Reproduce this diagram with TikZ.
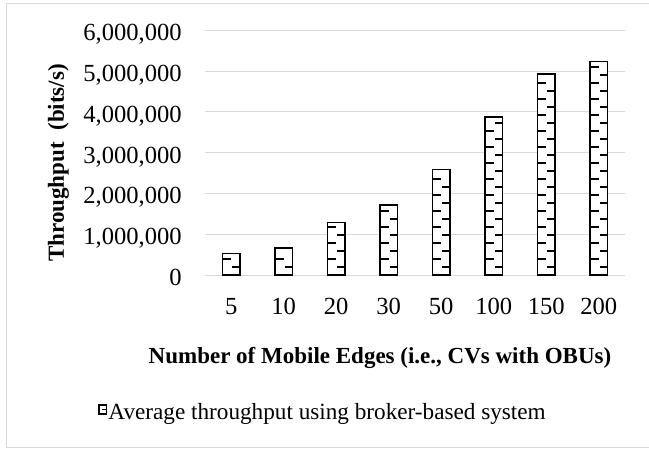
\documentclass[tikz,border=0pt]{standalone}
\usepackage{fontspec}
\setmainfont{Liberation Serif}
\definecolor{gridgray}{HTML}{D9D9D9}

\begin{document}
\begin{tikzpicture}[x=1pt,y=1pt,
    tick/.style={font=\fontsize{24.6}{24.6}\selectfont, inner sep=0pt},
    axtitle/.style={font=\fontsize{23}{23}\selectfont\bfseries, inner sep=0pt},
    bar/.style={draw=black, line width=1.5pt, fill=white},
    hatch/.style={line width=1.3pt}]

    \useasboundingbox (-205,-173) rectangle (444,275);
    \draw[gridgray, line width=1pt] (-198,-172) rectangle (470,272);

    \foreach \k in {0,...,6}
        \draw[gridgray, line width=1pt] (0,40.8*\k) -- (420,40.8*\k);

    \foreach \k/\lab in {0/0, 1/{1,000,000}, 2/{2,000,000}, 3/{3,000,000},
                         4/{4,000,000}, 5/{5,000,000}, 6/{6,000,000}}
        \node[tick, anchor=base east] (yl\k) at (-23,40.8*\k-10.5) {\lab};

    \foreach \i/\lab/\v in {1/5/0.53, 2/10/0.66, 3/20/1.29, 4/30/1.72,
                            5/50/2.59, 6/100/3.87, 7/150/4.93, 8/200/5.23} {
        \pgfmathsetmacro\xc{52.5*\i-26.25}
        \pgfmathsetmacro\h{40.8*\v}
        \pgfmathtruncatemacro\n{floor((\h-3)/8)}
        \draw[bar] (\xc-8.7,0) rectangle (\xc+8.7,\h);
        \foreach \m in {1,...,\n} {
            \ifodd\m
                \draw[hatch] (\xc+1,8*\m) -- (\xc+8.7,8*\m);
            \else
                \draw[hatch] (\xc-8.7,8*\m) -- (\xc,8*\m);
            \fi
        }
        \node[tick, anchor=base] (xl\i) at (\xc,-39) {\lab};
    }

    \node[axtitle, anchor=base] (xtitle) at (175,-88) {Number of Mobile Edges (i.e., CVs with OBUs)};
    \node[axtitle, anchor=base, rotate=90] (ytitle) at (-141,112) {Throughput\ \ (bits/s)};

    \draw[line width=1.6pt] (-106,-139) rectangle (-98.4,-130);
    \draw[line width=1.6pt] (-102.5,-134.5) -- (-98.4,-134.5);
    \node[font=\fontsize{23.2}{23.2}\selectfont, inner sep=0pt, anchor=base west] (legend)
        at (-96.7,-144) {Average throughput using broker-based system};

\end{tikzpicture}
\end{document}
